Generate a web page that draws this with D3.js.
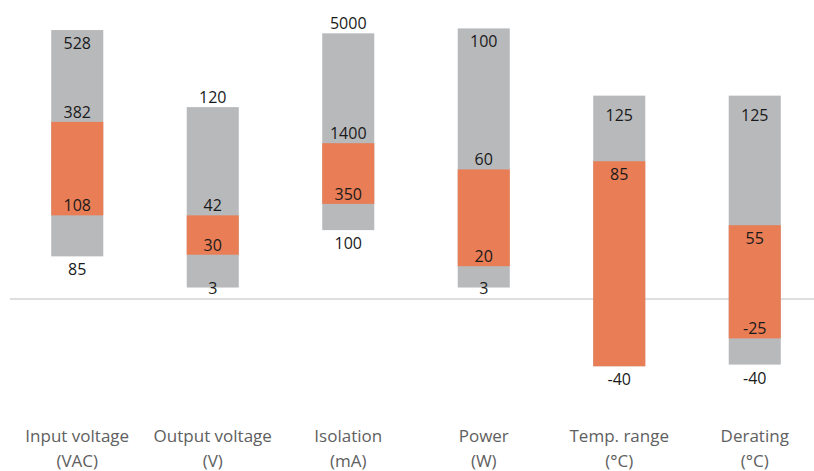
<!DOCTYPE html>
<html>
<head>
<meta charset="utf-8">
<script src="https://cdn.jsdelivr.net/npm/d3@7"></script>
<style>
    body { margin: 0; background: #fff; }
    svg text { font-family: "Open Sans", "Noto Sans", sans-serif; }
</style>
</head>
<body>
<svg id="chart" width="814" height="471"></svg>
<script>
// categories, two lines each
var categories = ['Input voltage|(VAC)', 'Output voltage|(V)', 'Isolation|(mA)', 'Power|(W)', 'Temp. range|(°C)', 'Derating|(°C)']

// bar edges in chart units (grey = full range, orange = typical range)
var rangeLow  = [26, 7, 42, 7, -41, -40]
var typLow    = [51, 27, 58, 20, -41, -24]
var typHigh   = [108, 51, 95, 79, 84, 45]
var rangeHigh = [164, 117, 162, 165, 124, 124]

// value labels written on the edges
var labelHigh    = ['528', '120', '5000', '100', '125', '125']
var labelTypHigh = ['382', '42', '1400', '60', '85', '55']
var labelTypLow  = ['108', '30', '350', '20', '', '-25']
var labelLow     = ['85', '3', '100', '3', '-40', '-40']

// where each label sits against its edge
var placeHigh    = ['below', 'above', 'above', 'below', 'inside', 'inside']
var placeTypHigh = ['above', 'above', 'above', 'above', 'below', 'below']
var placeTypLow  = ['above', 'above', 'above', 'above', 'above', 'above']
var placeLow     = ['below', 'on', 'below', 'on', 'below', 'below']

var offsets = { above: -10, below: 13, inside: 19, on: 0 }

var svg = d3.select('#chart')

var x = d3.scaleBand()
    .domain(d3.range(categories.length))
    .range([9.5, 822.5])
    .paddingInner(0.616)
    .paddingOuter(0.308)

var y = d3.scaleLinear()
    .domain([-60, 170])
    .range([397.4, 20.2])

// zero line
svg.append('line')
    .attr('x1', 10)
    .attr('x2', 814)
    .attr('y1', y(0))
    .attr('y2', y(0))
    .attr('stroke', '#d3d3d3')
    .attr('stroke-width', 1.5)

var idx = d3.range(categories.length)

// grey full range
svg.selectAll('rect.range').data(idx).enter().append('rect')
    .attr('class', 'range')
    .attr('x', function(i) { return x(i) })
    .attr('width', x.bandwidth())
    .attr('y', function(i) { return y(rangeHigh[i]) })
    .attr('height', function(i) { return y(rangeLow[i]) - y(rangeHigh[i]) })
    .attr('fill', '#b8b9bb')

// orange typical range
svg.selectAll('rect.typ').data(idx).enter().append('rect')
    .attr('class', 'typ')
    .attr('x', function(i) { return x(i) })
    .attr('width', x.bandwidth())
    .attr('y', function(i) { return y(typHigh[i]) })
    .attr('height', function(i) { return y(typLow[i]) - y(typHigh[i]) })
    .attr('fill', '#e87d56')

function drawLabels(values, texts, places) {
    svg.append('g').selectAll('text').data(idx.filter(function(i) { return texts[i] !== '' }))
        .enter().append('text')
        .attr('x', function(i) { return x(i) + x.bandwidth() / 2 })
        .attr('y', function(i) { return y(values[i]) + offsets[places[i]] })
        .attr('text-anchor', 'middle')
        .attr('dominant-baseline', 'central')
        .attr('font-size', 16)
        .attr('fill', '#1a1a1a')
        .text(function(i) { return texts[i] })
}

drawLabels(rangeHigh, labelHigh, placeHigh)
drawLabels(typHigh, labelTypHigh, placeTypHigh)
drawLabels(typLow, labelTypLow, placeTypLow)
drawLabels(rangeLow, labelLow, placeLow)

// category names
var cat = svg.append('g').selectAll('text').data(idx).enter().append('text')
    .attr('text-anchor', 'middle')
    .attr('font-size', 17)
    .attr('fill', '#606060')

cat.selectAll('tspan')
    .data(function(i) {
        return categories[i].split('|').map(function(s) { return { i: i, s: s } })
    })
    .enter().append('tspan')
    .attr('x', function(d) { return x(d.i) + x.bandwidth() / 2 })
    .attr('y', function(d, k) { return 442 + k * 25 })
    .text(function(d) { return d.s })
</script>
</body>
</html>
